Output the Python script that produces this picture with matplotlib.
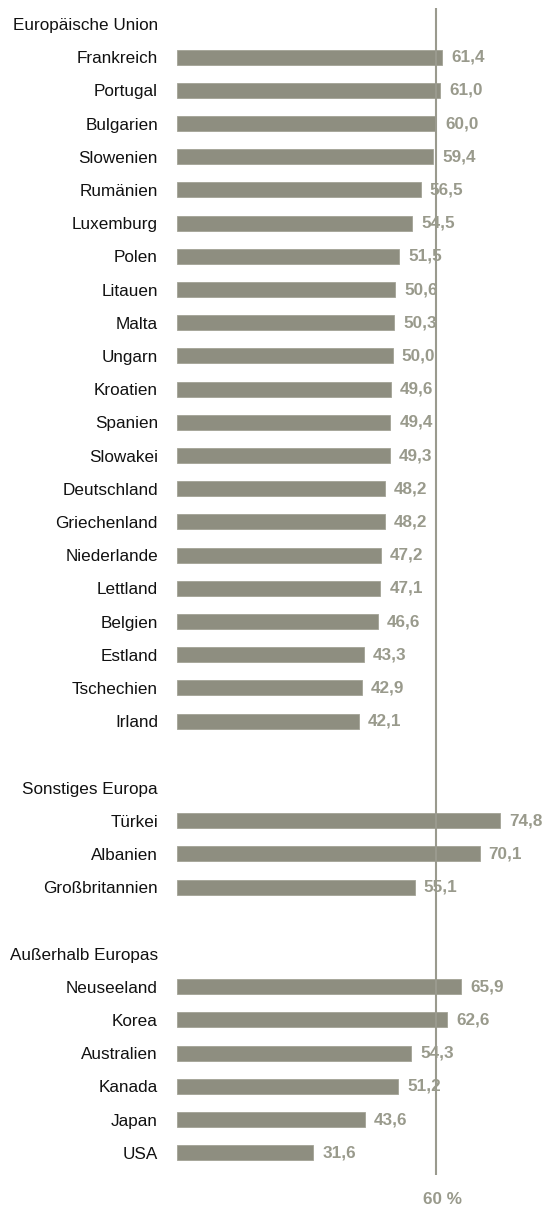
import matplotlib
matplotlib.use('Agg')
import matplotlib.pyplot as plt
from matplotlib import font_manager

# Data
eu_names = ['Frankreich', 'Portugal', 'Bulgarien', 'Slowenien', 'Rumänien', 'Luxemburg',
            'Polen', 'Litauen', 'Malta', 'Ungarn', 'Kroatien', 'Spanien', 'Slowakei',
            'Deutschland', 'Griechenland', 'Niederlande', 'Lettland', 'Belgien',
            'Estland', 'Tschechien', 'Irland']
eu_values = [61.4, 61.0, 60.0, 59.4, 56.5, 54.5, 51.5, 50.6, 50.3, 50.0, 49.6, 49.4,
             49.3, 48.2, 48.2, 47.2, 47.1, 46.6, 43.3, 42.9, 42.1]
other_eu_names = ['Türkei', 'Albanien', 'Großbritannien']
other_eu_values = [74.8, 70.1, 55.1]
non_eu_names = ['Neuseeland', 'Korea', 'Australien', 'Kanada', 'Japan', 'USA']
non_eu_values = [65.9, 62.6, 54.3, 51.2, 43.6, 31.6]
groups = ['Europäische Union', 'Sonstiges Europa', 'Außerhalb Europas']
reference = 60

bar_color = '#8e8e80'
text_gray = '#999a8c'

# pick a narrow font if there is one
names = {f.name for f in font_manager.fontManager.ttflist}
if 'Liberation Sans Narrow' in names:
    family, fs = 'Liberation Sans Narrow', 15
else:
    family, fs = 'Liberation Sans', 12.3
print(family)
plt.rcParams['font.family'] = [family, 'DejaVu Sans']

# build rows: header, items, blank row between groups
labels, ypos, vals = [], [], []
row = 0
for i, (g, n, v) in enumerate(zip(groups,
                                  [eu_names, other_eu_names, non_eu_names],
                                  [eu_values, other_eu_values, non_eu_values])):
    labels.append(g)
    ypos.append(row)
    row += 1
    for name, val in zip(n, v):
        labels.append(name)
        ypos.append(row)
        vals.append((row, val))
        row += 1
    row += 1

fig = plt.figure(figsize=(5.52, 12.12), dpi=100)
ax = fig.add_axes([177 / 552, 37 / 1212, 375 / 552, 1167 / 1212])

bar_y = [r for r, _ in vals]
bar_v = [v for _, v in vals]
ax.barh(bar_y, bar_v, height=0.45, color=bar_color, edgecolor='#a3a396', linewidth=0.6)
ax.axvline(reference, color='#9a9a8e', linewidth=1.5, zorder=3)

for y, v in vals:
    ax.annotate(f'{v:.1f}'.replace('.', ','), (v, y), xytext=(6.5, 0),
                textcoords='offset points', va='center', ha='left',
                fontsize=fs, fontweight='bold', color=text_gray)

ax.annotate('60 %', (reference, 35.42), xytext=(4.7, 0), textcoords='offset points',
            va='center', ha='center', fontsize=fs, fontweight='bold',
            color=text_gray, annotation_clip=False)

ax.set_xlim(0, 375 / 4.3167)
ax.set_ylim(34.67, -0.48)
ax.set_yticks(ypos, labels)
ax.tick_params(axis='y', length=0, pad=13.7, labelsize=fs, labelcolor='#111111')
ax.set_xticks([])
for s in ax.spines.values():
    s.set_visible(False)

fig.savefig('out.png', dpi=100)
